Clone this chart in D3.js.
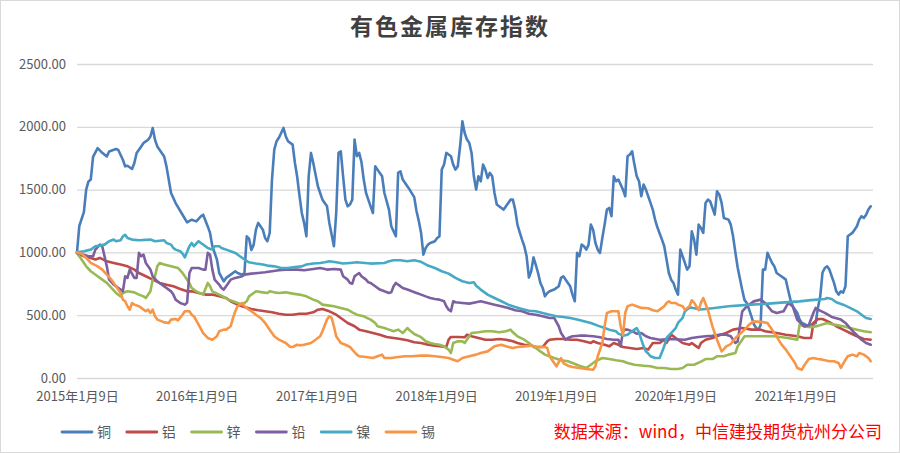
<!DOCTYPE html>
<html>
<head>
<meta charset="utf-8">
<script src="https://cdn.jsdelivr.net/npm/d3@7"></script>
<style>
  body { margin: 0; background: #fff; }
  svg text { font-family: "Microsoft YaHei", "Noto Sans CJK SC", sans-serif; }
</style>
</head>
<body>
<div id="chart"></div>
<script>
// 有色金属库存指数 (2015-01-09 = 1000), weekly data, [week number, index]
var seriesNames = ["铜", "铝", "锌", "铅", "镍", "锡"];
var seriesColors = ["#4A7EBB", "#BE4B48", "#98B954", "#7D60A0", "#46AAC5", "#F79646"];
var startDate = "2015-01-09";
var lastWeek = 347;

var tickDates = ["2015-01-09", "2016-01-09", "2017-01-09", "2018-01-09", "2019-01-09", "2020-01-09", "2021-01-09"];
var tickLabels = ["2015年1月9日", "2016年1月9日", "2017年1月9日", "2018年1月9日", "2019年1月9日", "2020年1月9日", "2021年1月9日"];
var yTicks = [0, 500, 1000, 1500, 2000, 2500];

var copper = [[0,1000],[1,1210],[3,1320],[4,1500],[5,1565],[6,1580],[7,1760],[9,1830],[11,1793],[13,1764],[14,1804],[17,1823],[18,1815],[20,1738],[21,1685],[22,1690],[24,1664],[25,1712],[26,1791],[28,1844],[29,1871],[30,1884],[31,1897],[32,1923],[33,1990],[34,1897],[35,1844],[38,1764],[39,1685],[41,1473],[43,1393],[46,1300],[48,1239],[50,1260],[52,1247],[54,1287],[55,1300],[57,1207],[58,1155],[59,1049],[61,943],[62,836],[64,770],[65,797],[67,823],[69,850],[70,836],[72,823],[73,836],[74,1128],[75,1110],[76,1020],[77,1060],[78,1181],[79,1235],[81,1181],[82,1115],[83,1089],[84,1155],[85,1580],[86,1819],[87,1885],[88,1912],[89,1951],[90,1991],[91,1925],[92,1885],[94,1858],[95,1712],[96,1600],[97,1450],[98,1314],[99,1235],[100,1128],[101,1606],[102,1792],[103,1712],[105,1527],[106,1473],[107,1420],[109,1367],[110,1235],[112,1049],[113,1314],[114,1792],[115,1805],[116,1606],[117,1420],[118,1367],[119,1381],[120,1420],[121,1898],[122,1766],[123,1792],[124,1720],[125,1580],[126,1473],[128,1367],[129,1314],[130,1686],[131,1659],[133,1606],[134,1473],[136,1341],[137,1208],[139,1128],[140,1633],[141,1646],[142,1580],[144,1527],[145,1500],[147,1440],[148,1330],[149,1250],[150,1155],[151,982],[152,1035],[153,1062],[154,1075],[156,1089],[157,1115],[158,1128],[159,1659],[160,1700],[161,1792],[162,1779],[163,1766],[164,1699],[165,1659],[166,1686],[167,1845],[168,2044],[169,1951],[170,1898],[171,1872],[172,1792],[173,1606],[174,1500],[175,1606],[176,1566],[177,1699],[178,1659],[179,1593],[180,1633],[181,1606],[182,1473],[183,1381],[185,1354],[186,1341],[187,1367],[189,1420],[190,1420],[191,1341],[192,1221],[193,1160],[194,1102],[195,1049],[196,969],[197,800],[198,850],[199,960],[200,900],[201,836],[202,757],[203,717],[204,650],[205,677],[206,690],[208,704],[210,730],[211,797],[212,810],[214,757],[215,730],[216,664],[217,611],[218,996],[219,969],[220,1062],[221,1049],[222,1022],[223,1060],[224,1221],[225,1181],[226,1075],[227,1022],[228,996],[229,1115],[230,1221],[231,1341],[232,1354],[233,1288],[234,1606],[235,1566],[236,1580],[237,1540],[238,1500],[239,1447],[240,1766],[241,1779],[242,1805],[243,1699],[244,1606],[245,1566],[246,1447],[247,1540],[248,1500],[249,1447],[250,1394],[251,1341],[252,1261],[253,1200],[254,1150],[255,1102],[256,1049],[257,943],[258,836],[259,783],[260,757],[261,704],[262,664],[263,1022],[264,969],[265,916],[266,863],[267,889],[268,1168],[269,1102],[270,982],[271,1221],[272,1195],[273,1155],[274,1394],[275,1420],[276,1407],[277,1354],[278,1301],[279,1487],[280,1460],[281,1394],[282,1274],[284,1261],[285,1221],[286,1128],[287,1000],[288,880],[289,790],[290,700],[291,620],[292,597],[293,544],[294,491],[295,430],[296,400],[297,385],[298,420],[299,863],[300,863],[301,996],[302,956],[303,916],[304,889],[305,836],[307,810],[308,797],[309,783],[310,700],[311,624],[312,571],[314,518],[315,465],[316,438],[317,430],[319,411],[320,425],[322,438],[323,560],[324,650],[325,840],[326,876],[327,889],[328,863],[329,810],[330,757],[331,690],[332,664],[333,690],[334,680],[335,730],[336,1128],[337,1142],[338,1155],[340,1208],[341,1261],[342,1288],[343,1274],[344,1300],[345,1341],[346,1367]];

var aluminium = [[0,996],[3,969],[6,956],[8,943],[10,956],[13,929],[16,916],[19,903],[22,889],[25,863],[27,836],[30,810],[33,783],[36,757],[39,743],[42,730],[45,709],[48,690],[50,690],[53,677],[56,664],[59,664],[62,650],[65,637],[67,611],[70,584],[73,565],[76,550],[79,539],[82,531],[85,523],[88,512],[91,504],[94,504],[97,512],[100,512],[103,523],[105,544],[107,550],[108,544],[110,531],[113,504],[115,478],[118,438],[121,412],[123,385],[126,372],[129,358],[132,345],[135,327],[138,319],[141,311],[144,300],[147,284],[150,279],[153,265],[156,258],[159,252],[161,247],[162,305],[163,327],[166,327],[169,324],[170,345],[172,332],[175,319],[178,305],[181,305],[184,311],[187,305],[190,292],[192,279],[195,265],[198,258],[200,247],[203,247],[205,292],[206,305],[209,311],[212,311],[215,305],[218,305],[221,292],[224,279],[225,292],[227,279],[230,265],[232,252],[234,279],[236,265],[238,247],[241,239],[244,231],[247,239],[249,226],[251,279],[254,279],[256,305],[257,279],[259,345],[260,332],[262,305],[264,279],[267,265],[268,279],[270,252],[271,239],[272,279],[274,305],[277,319],[280,340],[283,358],[286,385],[290,398],[294,385],[298,385],[300,372],[305,358],[309,345],[314,332],[317,318],[320,318],[321,438],[323,470],[325,470],[328,445],[331,412],[334,385],[337,358],[340,332],[343,311],[346,305]];

var zinc = [[0,996],[2,943],[4,889],[6,850],[9,810],[11,783],[13,757],[15,717],[17,677],[19,650],[20,677],[22,690],[25,682],[27,664],[29,650],[30,637],[32,690],[33,783],[34,810],[35,889],[36,916],[38,903],[41,889],[44,876],[46,836],[47,810],[48,783],[49,757],[50,717],[52,690],[55,664],[57,757],[58,730],[59,690],[62,664],[64,645],[66,624],[68,611],[70,597],[72,584],[74,611],[75,650],[77,677],[78,690],[81,682],[83,677],[84,690],[86,682],[88,677],[91,682],[94,672],[97,664],[100,650],[103,624],[105,611],[107,584],[110,576],[112,571],[115,558],[118,544],[120,523],[122,504],[125,491],[128,465],[130,438],[131,412],[134,398],[136,385],[138,372],[140,385],[141,372],[142,358],[144,398],[145,380],[147,350],[150,325],[152,292],[154,279],[156,271],[158,265],[160,252],[162,226],[163,199],[164,279],[166,292],[168,292],[169,279],[171,332],[172,358],[175,364],[178,372],[181,372],[184,364],[187,372],[189,385],[190,364],[192,332],[195,305],[197,279],[199,247],[200,239],[202,212],[204,186],[206,173],[208,159],[211,141],[214,133],[216,119],[219,98],[222,80],[224,106],[226,133],[229,159],[232,151],[235,141],[238,133],[240,119],[243,106],[247,98],[250,93],[253,80],[256,80],[259,72],[262,72],[264,80],[266,106],[269,106],[272,130],[274,151],[277,151],[279,173],[282,173],[284,186],[287,199],[288,252],[290,305],[291,332],[298,332],[304,332],[310,318],[314,305],[315,425],[317,411],[320,405],[323,415],[327,438],[330,425],[334,412],[337,398],[340,385],[343,372],[346,364]];

var lead = [[0,996],[3,982],[5,969],[7,969],[8,1022],[10,1062],[11,1049],[12,969],[13,889],[14,783],[16,743],[17,730],[19,704],[20,690],[21,810],[22,797],[23,863],[25,797],[26,797],[27,996],[28,969],[29,982],[30,916],[32,863],[33,810],[35,770],[37,743],[39,717],[41,690],[42,664],[43,624],[45,597],[47,584],[48,600],[49,836],[50,876],[53,876],[55,863],[56,863],[57,996],[58,982],[59,863],[60,783],[62,743],[63,717],[64,704],[66,757],[67,783],[69,797],[72,810],[73,823],[76,831],[79,836],[82,842],[85,850],[88,858],[91,863],[96,863],[99,858],[103,868],[106,876],[109,863],[112,868],[115,863],[116,810],[118,783],[119,757],[120,751],[121,810],[123,836],[124,810],[126,783],[127,762],[128,757],[130,730],[132,704],[134,690],[136,677],[137,682],[138,730],[139,757],[140,743],[142,717],[144,704],[146,690],[148,677],[150,664],[152,650],[154,637],[156,629],[158,624],[160,611],[161,571],[162,544],[163,531],[164,611],[165,603],[168,597],[171,592],[174,603],[176,611],[179,597],[182,584],[185,571],[188,558],[191,539],[194,531],[197,512],[200,504],[203,491],[206,478],[208,478],[210,412],[211,358],[213,305],[214,319],[216,332],[219,337],[222,337],[225,332],[228,324],[231,311],[234,305],[236,305],[237,252],[238,372],[239,385],[240,385],[243,364],[244,353],[246,358],[247,345],[248,332],[250,319],[254,305],[259,311],[265,305],[268,319],[271,327],[274,332],[277,337],[280,345],[283,345],[285,332],[286,305],[287,279],[288,292],[290,531],[292,571],[295,610],[298,624],[300,597],[303,531],[305,518],[308,531],[310,597],[312,571],[314,464],[317,411],[319,420],[321,518],[322,558],[323,544],[326,518],[329,486],[333,465],[335,438],[337,398],[339,358],[342,305],[344,279],[346,265]];

var nickel = [[0,1000],[3,1009],[6,1022],[8,1049],[10,1054],[12,1062],[14,1089],[16,1102],[17,1089],[19,1097],[20,1128],[21,1140],[22,1115],[24,1102],[27,1097],[32,1102],[34,1089],[38,1097],[39,1075],[41,1062],[42,1035],[43,1022],[45,1009],[46,990],[47,960],[49,1049],[50,1075],[51,1049],[53,1089],[54,1075],[56,1049],[57,1035],[59,1022],[60,1049],[62,1049],[63,1035],[65,1022],[67,1009],[69,996],[71,969],[73,943],[75,921],[78,911],[81,903],[83,895],[86,889],[89,876],[92,876],[95,884],[98,889],[100,903],[103,911],[106,916],[108,921],[110,929],[113,921],[116,911],[119,916],[122,921],[128,911],[134,916],[136,929],[138,937],[141,937],[144,929],[147,937],[150,925],[153,895],[156,876],[159,850],[162,831],[165,797],[168,770],[171,757],[173,762],[174,735],[176,704],[179,664],[182,637],[185,611],[188,584],[191,565],[194,550],[197,536],[200,531],[203,518],[206,504],[209,491],[212,486],[215,478],[218,465],[221,451],[224,438],[227,417],[230,398],[232,385],[235,372],[236,353],[238,337],[240,345],[241,358],[243,385],[244,398],[245,364],[246,305],[247,252],[248,212],[249,195],[250,173],[252,159],[254,159],[256,252],[257,319],[259,358],[261,398],[262,438],[264,478],[265,531],[267,560],[268,560],[272,545],[278,557],[284,571],[294,584],[300,590],[307,600],[315,610],[320,620],[326,629],[327,637],[329,629],[331,603],[334,584],[337,558],[340,531],[342,504],[344,478],[346,470]];

var tin = [[0,1000],[2,990],[4,956],[6,916],[9,889],[11,863],[13,823],[15,783],[17,730],[19,677],[20,624],[21,611],[22,571],[23,544],[24,597],[25,584],[27,571],[28,558],[30,531],[31,544],[32,518],[33,544],[34,491],[35,465],[37,451],[38,443],[40,438],[41,465],[43,470],[44,459],[46,504],[47,531],[49,531],[50,504],[51,491],[53,425],[55,358],[57,319],[59,305],[61,332],[62,372],[64,385],[65,385],[67,412],[68,478],[69,531],[70,571],[72,597],[73,571],[75,544],[76,531],[78,504],[80,478],[82,438],[84,385],[86,332],[88,305],[91,279],[93,247],[94,247],[96,265],[97,260],[99,265],[102,279],[104,305],[106,332],[107,372],[109,465],[110,491],[111,478],[112,412],[113,332],[115,279],[117,265],[119,247],[120,226],[122,186],[123,173],[126,167],[129,159],[131,173],[133,186],[134,159],[137,159],[140,167],[143,173],[146,173],[150,178],[153,178],[156,173],[159,167],[162,159],[164,146],[166,133],[168,159],[171,173],[174,186],[176,199],[179,212],[182,252],[185,265],[187,252],[190,239],[192,247],[195,252],[198,258],[200,247],[204,247],[205,239],[206,173],[208,119],[209,93],[211,159],[212,119],[214,98],[216,88],[219,80],[222,72],[225,66],[226,93],[227,173],[229,279],[230,412],[231,518],[233,531],[236,531],[237,412],[238,340],[239,520],[240,571],[242,584],[244,571],[246,558],[249,555],[251,539],[253,531],[254,544],[256,571],[257,597],[258,611],[259,597],[261,597],[262,584],[264,571],[265,544],[267,571],[268,619],[269,600],[271,540],[272,600],[273,637],[275,544],[277,411],[279,305],[281,212],[282,230],[283,252],[285,270],[287,319],[289,350],[291,385],[293,425],[295,451],[299,445],[301,438],[303,385],[305,330],[307,270],[309,226],[311,173],[313,119],[314,80],[316,66],[317,100],[319,151],[321,159],[323,151],[325,146],[328,133],[330,133],[332,119],[333,80],[335,146],[336,173],[338,186],[340,173],[341,199],[343,186],[345,159],[346,133]];

var allSeries = [copper, aluminium, zinc, lead, nickel, tin];

var W = 900, H = 453;
var plotLeft = 77, plotRight = 873, plotTop = 64, plotBottom = 378;

var parseDate = d3.timeParse("%Y-%m-%d");
var start = parseDate(startDate);
function weekDate(w) { return d3.timeDay.offset(start, w * 7); }

var svg = d3.select("#chart").append("svg")
  .attr("width", W)
  .attr("height", H);

svg.append("rect")
  .attr("x", 0.5).attr("y", 0.5)
  .attr("width", W - 1).attr("height", H - 1)
  .attr("fill", "#fff")
  .attr("stroke", "#d9d9d9");

var x = d3.scaleTime()
  .domain([start, weekDate(lastWeek)])
  .range([plotLeft, plotRight]);

var y = d3.scaleLinear()
  .domain([0, 2500])
  .range([plotBottom, plotTop]);

// title
svg.append("text")
  .attr("x", W / 2)
  .attr("y", 35)
  .attr("text-anchor", "middle")
  .attr("font-size", 23)
  .attr("font-weight", "bold")
  .attr("letter-spacing", 2)
  .attr("fill", "#404040")
  .text("有色金属库存指数");

// y axis + grid
var yAxis = svg.append("g")
  .attr("transform", "translate(" + plotLeft + ",0)")
  .call(d3.axisLeft(y).tickValues(yTicks).tickFormat(d3.format(".2f")).tickSize(-(plotRight - plotLeft)).tickPadding(11));
yAxis.select(".domain").remove();
yAxis.selectAll(".tick line").attr("stroke", "#d9d9d9").attr("stroke-width", 1.3);
yAxis.selectAll(".tick text").attr("fill", "#595959").attr("font-size", 13);

// x axis labels
var tickMap = {};
tickDates.forEach(function(d, i) { tickMap[d] = tickLabels[i]; });
var xAxis = svg.append("g")
  .attr("transform", "translate(0," + plotBottom + ")")
  .call(d3.axisBottom(x)
    .tickValues(tickDates.map(parseDate))
    .tickFormat(function(d) { return tickMap[d3.timeFormat("%Y-%m-%d")(d)]; })
    .tickSize(0)
    .tickPadding(14));
xAxis.select(".domain").remove();
xAxis.selectAll(".tick text").attr("fill", "#595959").attr("font-size", 13);

// lines
var line = d3.line()
  .x(function(d) { return x(weekDate(d[0])); })
  .y(function(d) { return y(d[1]); });

svg.append("g").selectAll("path")
  .data(allSeries)
  .join("path")
  .attr("d", line)
  .attr("fill", "none")
  .attr("stroke", function(d, i) { return seriesColors[i]; })
  .attr("stroke-width", 2.6)
  .attr("stroke-linejoin", "round")
  .attr("stroke-linecap", "round");

// legend
var legend = svg.append("g").attr("transform", "translate(62,432)");
var items = legend.selectAll("g")
  .data(seriesNames)
  .join("g")
  .attr("transform", function(d, i) { return "translate(" + (i * 64.8) + ",0)"; });
items.append("line")
  .attr("x1", 0).attr("x2", 30)
  .attr("y1", 0).attr("y2", 0)
  .attr("stroke", function(d, i) { return seriesColors[i]; })
  .attr("stroke-width", 2.8)
  .attr("stroke-linecap", "round");
items.append("text")
  .attr("x", 35)
  .attr("y", 5)
  .attr("font-size", 14)
  .attr("fill", "#595959")
  .text(function(d) { return d; });

// source note
svg.append("text")
  .attr("x", 882)
  .attr("y", 438)
  .attr("text-anchor", "end")
  .attr("font-size", 17)
  .attr("fill", "#FF0000")
  .text("数据来源：wind，中信建投期货杭州分公司");
</script>
</body>
</html>
